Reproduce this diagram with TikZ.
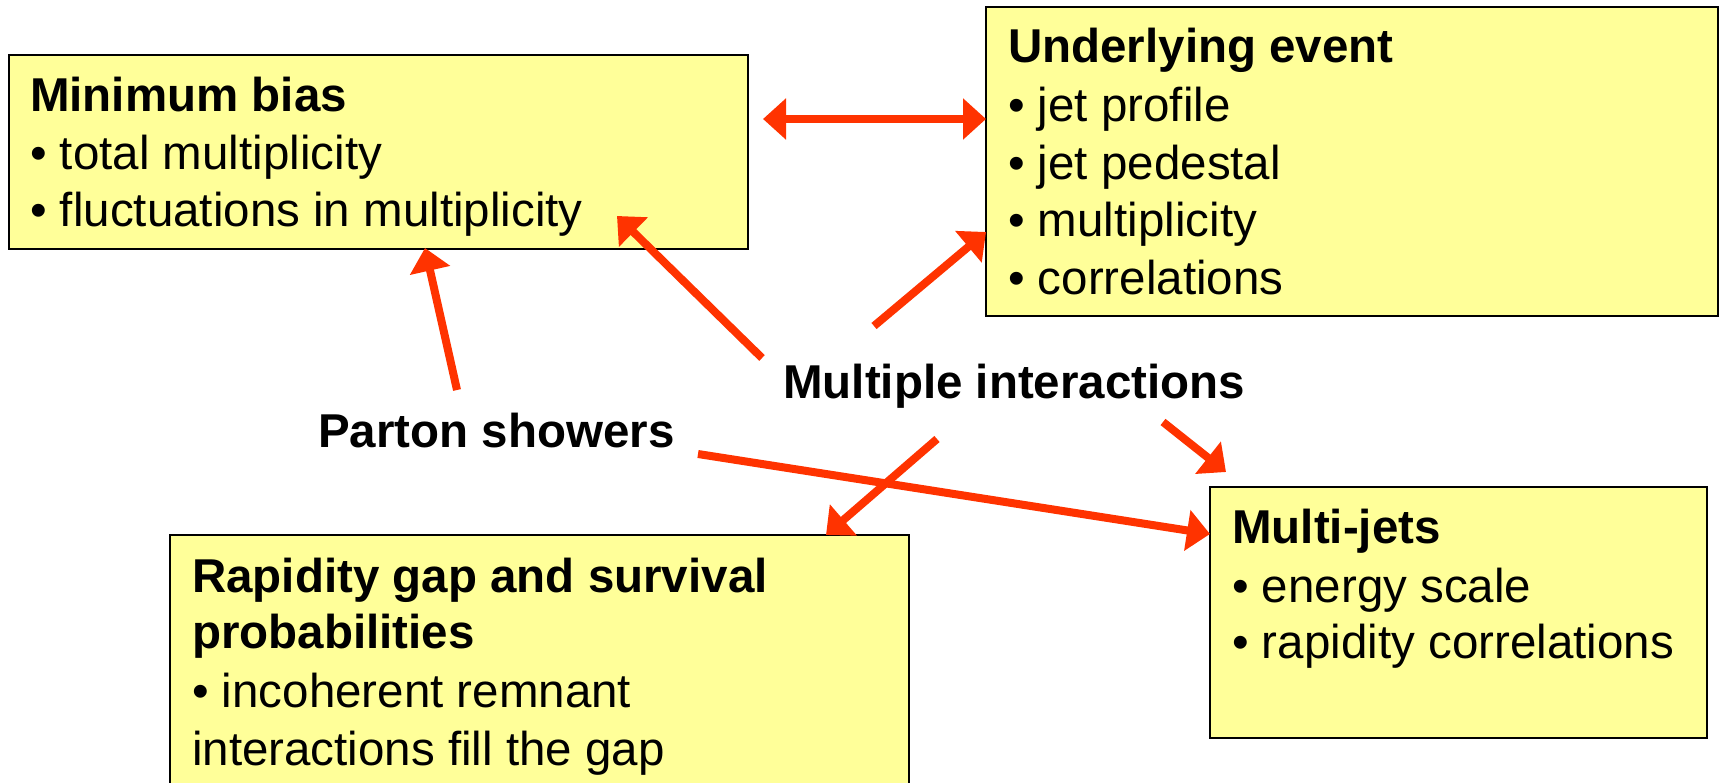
\documentclass[tikz,border=0pt]{standalone}
\usepackage{fontspec}
\setmainfont{Liberation Sans}
\usetikzlibrary{arrows.meta}
\definecolor{boxfill}{RGB}{255,255,153}
\definecolor{arrred}{RGB}{255,51,0}
\begin{document}
\begin{tikzpicture}[x=1pt,y=1pt,
  box/.style={draw=black, line width=2.2pt, fill=boxfill},
  txt/.style={anchor=base west, inner sep=0pt, font=\fontsize{47.5}{57.6}\selectfont},
  ttl/.style={txt, font=\fontsize{47.5}{57.6}\selectfont\bfseries},
  conn/.style={draw=arrred, line width=8pt, -{Triangle[length=23pt,width=40pt]}},
  dconn/.style={draw=arrred, line width=8pt, {Triangle[length=23pt,width=40pt]}-{Triangle[length=23pt,width=40pt]}}]
\useasboundingbox (0,0) rectangle (1721,-783);
\clip (0,0) rectangle (1721,-783);
% boxes
\path[box] (9,-55) rectangle (748,-249) coordinate (mbse);
\path[box] (986,-7) rectangle (1718,-316);
\path[box] (170,-535) rectangle (909,-800);
\path[box] (1210,-487) rectangle (1707,-738);
% Minimum bias
\node[ttl] (mb1) at (30,-112) {Minimum bias};
\node[txt] (mb2) at (30,-170) {• total multiplicity};
\node[txt] (mb3) at (30,-227) {• fluctuations in multiplicity};
% Underlying event
\node[ttl] (ue1) at (1008,-63) {Underlying event};
\node[txt] (ue2) at (1008,-122) {• jet profile};
\node[txt] (ue3) at (1008,-180) {• jet pedestal};
\node[txt] (ue4) at (1008,-237) {• multiplicity};
\node[txt] (ue5) at (1008,-295) {• correlations};
% Rapidity gap
\node[ttl] (rg1) at (192,-592) {Rapidity gap and survival};
\node[ttl] (rg2) at (192,-648) {probabilities};
\node[txt] (rg3) at (192,-707) {• incoherent remnant};
\node[txt] (rg4) at (192,-765) {interactions fill the gap};
% Multi-jets
\node[ttl] (mj1) at (1232,-543) {Multi-jets};
\node[txt] (mj2) at (1232,-602) {• energy scale};
\node[txt] (mj3) at (1232,-658) {• rapidity correlations};
% central labels
\node[ttl] (mi) at (783,-399) {Multiple interactions};
\node[ttl] (ps) at (318,-447) {Parton showers};
% connector end points
\coordinate (dA) at (763,-119);
\coordinate (dB) at (986,-119);
\coordinate (psA) at (457,-390);
\coordinate (psB) at (425,-248);
\coordinate (miA) at (762,-358);
\coordinate (miB) at (617,-216);
\coordinate (miC) at (874,-326);
\coordinate (miD) at (986,-232);
\coordinate (miE) at (937,-439);
\coordinate (miF) at (826,-535);
\coordinate (miG) at (1163,-422);
\coordinate (miH) at (1226,-472);
\coordinate (psC) at (698,-454);
\coordinate (psD) at (1210,-534);
% connectors
\draw[dconn] (dA) -- (dB);
\draw[conn] (psA) -- (psB);
\draw[conn] (miA) -- (miB);
\draw[conn] (miC) -- (miD);
\draw[conn] (miE) -- (miF);
\draw[conn] (miG) -- (miH);
\draw[conn] (psC) -- (psD);
\end{tikzpicture}
\end{document}
